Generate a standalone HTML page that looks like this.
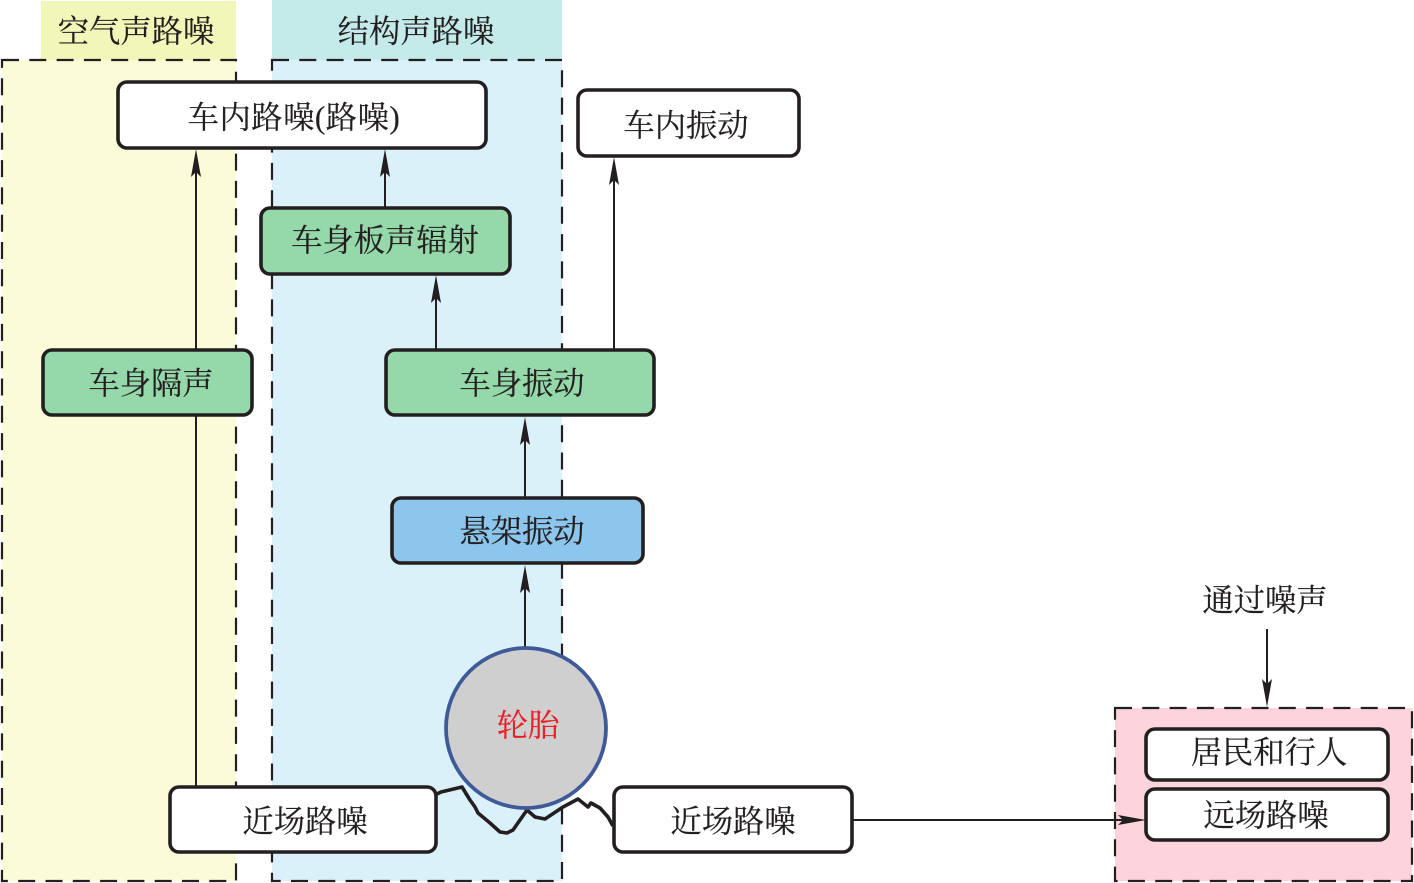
<!DOCTYPE html>
<html><head><meta charset="utf-8"><style>
html,body{margin:0;padding:0;background:#fff}
svg{display:block}
text{font-family:"Liberation Serif","Noto Serif CJK SC",serif;font-size:31.3px;fill:#231f20;text-anchor:middle;stroke:#231f20;stroke-width:.2}
.b{stroke:#231f20;stroke-width:3.6}
.d{stroke:#231f20;stroke-width:2.2;stroke-dasharray:17 10.300;fill:none}
.l{stroke:#231f20;stroke-width:2;fill:none}
.a{fill:#231f20;stroke:none}
</style></head><body>
<svg width="1414" height="883" viewBox="0 0 1414 883">
<rect x="41" y="1" width="195" height="59" fill="#f2f6b8"/>
<rect x="272" y="0" width="290" height="60" fill="#c5eaea"/>
<rect x="2" y="60" width="234" height="821" fill="#fbfbd8"/>
<rect x="272" y="60" width="290" height="821" fill="#daf1fa"/>
<rect x="1115" y="708" width="297" height="173" fill="#fdd3dc"/>
<rect x="2" y="60" width="234" height="821" class="d"/>
<rect x="272" y="60" width="290" height="821" class="d"/>
<rect x="1115" y="708" width="297" height="173" class="d"/>

<path class="l" d="M196 170V349M196 416V786M385 170V208M436 295V349M614 178V349M525 438V497M525 586V648M1267 629V688M852 820H1128"/>
<path class="a" d="M196 149l5 28-5-5-5 5z"/>
<path class="a" d="M385 149l5 28-5-5-5 5z"/>
<path class="a" d="M436 275l5 28-5-5-5 5z"/>
<path class="a" d="M614 157l5 28-5-5-5 5z"/>
<path class="a" d="M525 417l5 28-5-5-5 5z"/>
<path class="a" d="M525 565l5 28-5-5-5 5z"/>
<path class="a" d="M1267 707l-5-28 5 5 5-5z"/>
<path class="a" d="M1146 820l-28-5 5 5-5 5z"/>

<rect x="118" y="82" width="368" height="66" rx="9" fill="#fff" class="b"/>
<rect x="578" y="90" width="221" height="66" rx="9" fill="#fff" class="b"/>
<rect x="261" y="208" width="249" height="66" rx="9" fill="#95d9aa" class="b"/>
<rect x="43" y="350" width="209" height="65" rx="9" fill="#95d9aa" class="b"/>
<rect x="386" y="350" width="268" height="65" rx="9" fill="#95d9aa" class="b"/>
<rect x="392" y="498" width="251" height="65" rx="9" fill="#8cc6ec" class="b"/>
<rect x="170" y="787" width="266" height="65" rx="9" fill="#fff" class="b"/>
<rect x="614" y="787" width="238" height="65" rx="9" fill="#fff" class="b"/>
<rect x="1146" y="729" width="242" height="51" rx="9" fill="#fff" class="b"/>
<rect x="1146" y="789" width="242" height="51" rx="9" fill="#fff" class="b"/>

<path d="M437 794L441 792L462 787L470 800L475 807L478 813L490 823L500 832L507 833L513 830L520 820L527 810L535 817L545 819L563 807L578 799L588 807L591 803L600 808L608 817L613 826" fill="none" stroke="#231f20" stroke-width="3.600" stroke-linejoin="round"/>
<circle cx="526" cy="728" r="80" fill="#cfcfcf" stroke="#3f5a99" stroke-width="3.800"/>

<text x="136" y="42">空气声路噪</text>
<text x="416" y="42">结构声路噪</text>
<text x="294" y="128" style="letter-spacing:.5px">车内路噪(路噪)</text>
<text x="686" y="136">车内振动</text>
<text x="385" y="251">车身板声辐射</text>
<text x="151" y="394">车身隔声</text>
<text x="522" y="394">车身振动</text>
<text x="522" y="542">悬架振动</text>
<text x="528" y="736" style="fill:#e8202a;stroke:#e8202a">轮胎</text>
<text x="305" y="832">近场路噪</text>
<text x="733" y="832">近场路噪</text>
<text x="1265" y="611">通过噪声</text>
<text x="1269" y="763">居民和行人</text>
<text x="1266" y="826">远场路噪</text>
</svg>
</body></html>
